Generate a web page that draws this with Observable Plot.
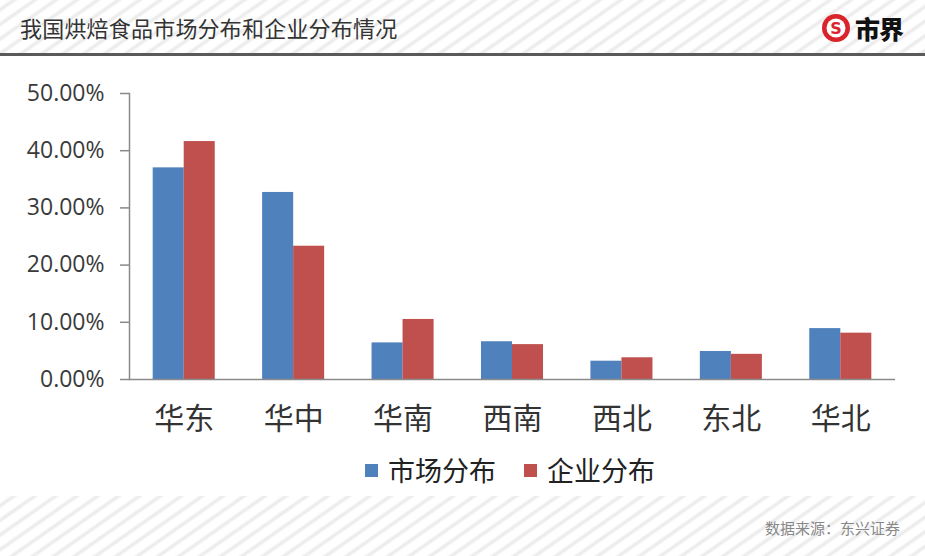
<!DOCTYPE html>
<html>
<head>
<meta charset="utf-8">
<script src="https://cdn.jsdelivr.net/npm/d3@7"></script>
<script src="https://cdn.jsdelivr.net/npm/@observablehq/plot@0.6"></script>
<style>
  html, body { margin: 0; padding: 0; background: #fff; }
  body { width: 925px; height: 556px; overflow: hidden; font-family: "Noto Sans CJK SC", sans-serif; }
  .stripes {
    background: repeating-linear-gradient(145deg, #ffffff 0px, #ffffff 5px, #e9e9e9 8px, #ffffff 11px, #ffffff 12px);
  }
  #header { position: relative; height: 53px; border-bottom: 3px solid #5a5a5a; }
  #title { position: absolute; left: 20px; top: 11px; font-size: 22px; line-height: 32px; color: #333; letter-spacing: 0.2px; }
  #logo { position: absolute; right: 22px; top: 10px; display: flex; align-items: center; }
  #logo span { font-size: 25px; font-weight: 900; color: #111; margin-left: 4px; letter-spacing: -1px; }
  #chart { height: 389px; }
  #legend { height: 51px; position: relative; font-size: 27px; color: #222; }
  .item { position: absolute; top: 7px; display: flex; align-items: center; line-height: 36px; }
  .sw { width: 13px; height: 13px; margin-right: 10px; }
  #footer { height: 60px; position: relative; }
  #source { position: absolute; right: 25px; top: 21px; font-size: 15px; color: #888; }
</style>
</head>
<body>
<div id="header" class="stripes">
  <div id="title">我国烘焙食品市场分布和企业分布情况</div>
  <div id="logo">
    <svg width="30" height="30" viewBox="0 0 30 30">
      <circle cx="15" cy="15" r="14" fill="#d9242b"></circle>
      <circle cx="15" cy="15" r="9.5" fill="#fff"></circle>
      <text x="15" y="20.5" text-anchor="middle" font-size="16" font-weight="900" fill="#d9242b" font-family="DejaVu Sans">S</text>
    </svg>
    <span>市界</span>
  </div>
</div>
<div id="chart"></div>
<div id="legend"></div>
<div id="footer" class="stripes"><div id="source">数据来源：东兴证券</div></div>
<script>
const regions = ["华东", "华中", "华南", "西南", "西北", "东北", "华北"];
const marketShare = [0.370, 0.327, 0.064, 0.066, 0.032, 0.049, 0.089];
const firmShare   = [0.416, 0.233, 0.105, 0.061, 0.038, 0.044, 0.081];
const seriesNames = ["市场分布", "企业分布"];
const seriesColors = ["#4f81bd", "#c0504d"];
const yTicks = [0, 0.1, 0.2, 0.3, 0.4, 0.5];

const rows = regions.map((r, i) => ({region: r, market: marketShare[i], firm: firmShare[i]}));

const plot = Plot.plot({
  width: 925,
  height: 389,
  marginLeft: 129,
  marginRight: 30,
  marginTop: 37,
  marginBottom: 66,
  style: {background: "transparent", color: "#404040"},
  x: {domain: regions, paddingInner: 0.433, paddingOuter: 0.2165, round: false},
  y: {domain: [0, 0.5]},
  marks: [
    Plot.barY(rows, {x: "region", y: "market", fill: seriesColors[0], insetRight: 31}),
    Plot.barY(rows, {x: "region", y: "firm", fill: seriesColors[1], insetLeft: 31}),
    Plot.ruleY([0], {stroke: "#8a8a8a", strokeWidth: 1.5}),
    Plot.frame({anchor: "left", stroke: "#8a8a8a", strokeWidth: 1.5}),
    Plot.axisY({ticks: yTicks, tickFormat: d3.format(".2%"), tickSize: 9, tickPadding: 16,
      fontSize: 23, fontFamily: "Open Sans", fill: "#3a3a3a", stroke: "#8a8a8a", strokeWidth: 1.5, label: null}),
    Plot.axisX({tickSize: 0, tickPadding: 28, fontSize: 30, fontFamily: "Noto Sans CJK SC", fill: "#333", label: null})
  ]
});
document.getElementById("chart").appendChild(plot);

const legend = document.getElementById("legend");
const lefts = [365, 524];
seriesNames.forEach((name, i) => {
  const item = document.createElement("div");
  item.className = "item";
  item.style.left = lefts[i] + "px";
  item.innerHTML = `<div class="sw" style="background:${seriesColors[i]}"></div><span>${name}</span>`;
  legend.appendChild(item);
});
</script>
</body>
</html>
